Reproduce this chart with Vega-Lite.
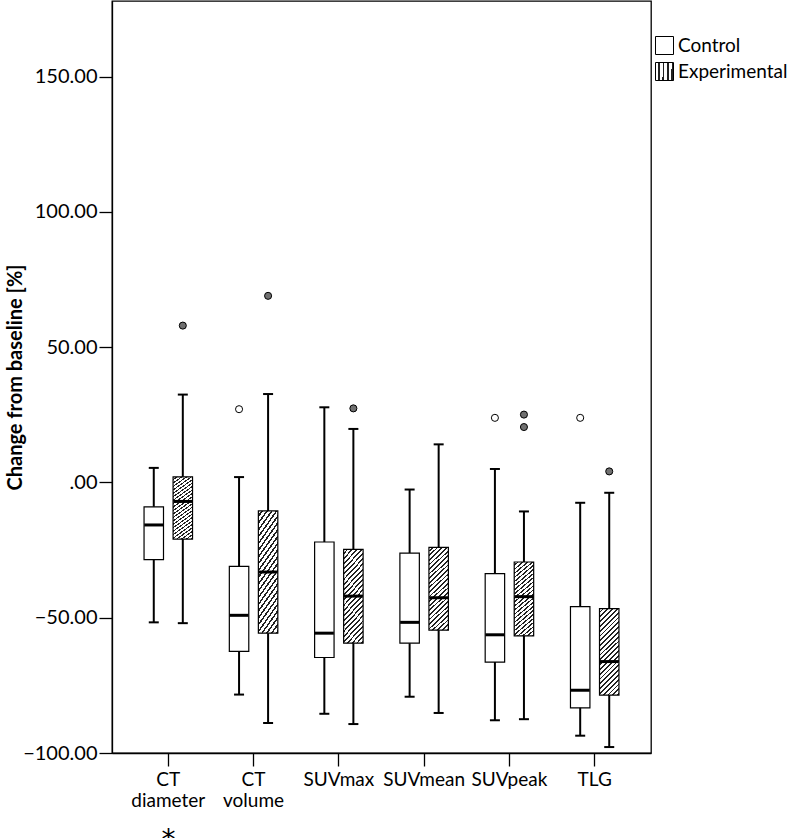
{
  "$schema": "https://vega.github.io/schema/vega-lite/v6.json",
  "autosize": {"type": "none"},
  "padding": {"left": 112, "top": 1, "right": 137, "bottom": 85},
  "width": 539,
  "height": 752,
  "background": "white",
  "config": {
    "font": "Lato",
    "view": {"stroke": "black", "strokeWidth": 1.3},
    "axis": {"grid": false, "domainColor": "black", "tickColor": "black", "labelColor": "black", "titleColor": "black", "labelFont": "Lato", "titleFont": "Lato", "domainWidth": 1.3, "tickWidth": 1.3}
  },
  "datasets": {
    "boxes": [
      {"measure": "CT diameter", "group": "Control", "lo": -51.7, "q1": -28.5, "med": -15.7, "q3": -9.0, "hi": 5.4},
      {"measure": "CT diameter", "group": "Experimental", "lo": -52.0, "q1": -20.9, "med": -7.0, "q3": 2.1, "hi": 32.5},
      {"measure": "CT volume", "group": "Control", "lo": -78.4, "q1": -62.4, "med": -49.1, "q3": -31.0, "hi": 2.0},
      {"measure": "CT volume", "group": "Experimental", "lo": -88.9, "q1": -55.7, "med": -33.1, "q3": -10.5, "hi": 32.7},
      {"measure": "SUVmax", "group": "Control", "lo": -85.5, "q1": -64.7, "med": -55.7, "q3": -22.0, "hi": 27.8},
      {"measure": "SUVmax", "group": "Experimental", "lo": -89.3, "q1": -59.4, "med": -42.0, "q3": -24.7, "hi": 19.8},
      {"measure": "SUVmean", "group": "Control", "lo": -79.2, "q1": -59.4, "med": -51.7, "q3": -26.1, "hi": -2.6},
      {"measure": "SUVmean", "group": "Experimental", "lo": -85.2, "q1": -54.6, "med": -42.6, "q3": -24.0, "hi": 14.1},
      {"measure": "SUVpeak", "group": "Control", "lo": -87.9, "q1": -66.4, "med": -56.3, "q3": -33.7, "hi": 5.0},
      {"measure": "SUVpeak", "group": "Experimental", "lo": -87.5, "q1": -56.7, "med": -42.2, "q3": -29.4, "hi": -10.7},
      {"measure": "TLG", "group": "Control", "lo": -93.6, "q1": -83.3, "med": -76.8, "q3": -45.9, "hi": -7.5},
      {"measure": "TLG", "group": "Experimental", "lo": -97.8, "q1": -78.6, "med": -66.2, "q3": -46.6, "hi": -3.8}
    ],
    "outliers": [
      {"measure": "CT diameter", "group": "Experimental", "value": 58.0},
      {"measure": "CT volume", "group": "Control", "value": 27.1},
      {"measure": "CT volume", "group": "Experimental", "value": 69.0},
      {"measure": "SUVmax", "group": "Experimental", "value": 27.4},
      {"measure": "SUVpeak", "group": "Control", "value": 23.9},
      {"measure": "SUVpeak", "group": "Experimental", "value": 25.1},
      {"measure": "SUVpeak", "group": "Experimental", "value": 20.5},
      {"measure": "TLG", "group": "Control", "value": 23.9},
      {"measure": "TLG", "group": "Experimental", "value": 4.1}
    ]
  },
  "encoding": {
    "x": {
      "field": "measure", "type": "nominal",
      "sort": ["CT diameter", "CT volume", "SUVmax", "SUVmean", "SUVpeak", "TLG"],
      "scale": {"paddingInner": 0.2, "paddingOuter": 0.26},
      "axis": {
        "labelAngle": 0, "labelFontSize": 19, "labelExpr": "split(datum.label, ' ')",
        "labelLineHeight": 21, "labelBaseline": "top", "labelPadding": 4,
        "tickSize": 13,
        "title": "*", "titleFont": "DejaVu Sans", "titleFontSize": 28, "titleFontWeight": "normal",
        "titleX": 56, "titleY": 95, "titleAlign": "center", "titleBaseline": "alphabetic"
      }
    },
    "xOffset": {
      "field": "group", "type": "nominal",
      "scale": {"domain": ["Control", "Experimental"], "paddingInner": 0.33, "paddingOuter": 0.34}
    }
  },
  "layer": [
    {
      "data": {"name": "boxes"},
      "mark": {"type": "rule", "color": "black", "strokeWidth": 2, "opacity": 1},
      "encoding": {
        "y": {
          "field": "lo", "type": "quantitative",
          "scale": {"domain": [-100, 178], "nice": false, "zero": false},
          "axis": {
            "values": [-100, -50, 0, 50, 100, 150],
            "labelExpr": "datum.value === 0 ? '.00' : format(datum.value, '.2f')",
            "labelFontSize": 20, "labelPadding": 2, "tickSize": 13,
            "title": "Change from baseline [%]", "titleFontSize": 20, "titleFontWeight": "bold",
            "titleX": -91, "titleY": 376, "titleAlign": "center", "titleBaseline": "alphabetic", "titleAngle": -90
          }
        },
        "y2": {"field": "hi"}
      }
    },
    {
      "data": {"name": "boxes"},
      "mark": {"type": "tick", "color": "black", "size": 10, "thickness": 2, "opacity": 1},
      "encoding": {"y": {"field": "lo", "type": "quantitative"}}
    },
    {
      "data": {"name": "boxes"},
      "mark": {"type": "tick", "color": "black", "size": 10, "thickness": 2, "opacity": 1},
      "encoding": {"y": {"field": "hi", "type": "quantitative"}}
    },
    {
      "data": {"name": "boxes"},
      "mark": {"type": "bar", "stroke": "black", "strokeWidth": 1.2, "opacity": 1},
      "encoding": {
        "y": {"field": "q1", "type": "quantitative"},
        "y2": {"field": "q3"},
        "fill": {
          "field": "group", "type": "nominal",
          "scale": {"domain": ["Control", "Experimental"], "range": ["white", {"expr": "{gradient:'linear',x1:0,y1:0,x2:0.26,y2:1.16,stops:[{offset:0,color:'white'},{offset:0.0282,color:'white'},{offset:0.0282,color:'#222'},{offset:0.0455,color:'#222'},{offset:0.0455,color:'white'},{offset:0.0736,color:'white'},{offset:0.0736,color:'#222'},{offset:0.0909,color:'#222'},{offset:0.0909,color:'white'},{offset:0.1191,color:'white'},{offset:0.1191,color:'#222'},{offset:0.1364,color:'#222'},{offset:0.1364,color:'white'},{offset:0.1645,color:'white'},{offset:0.1645,color:'#222'},{offset:0.1818,color:'#222'},{offset:0.1818,color:'white'},{offset:0.21,color:'white'},{offset:0.21,color:'#222'},{offset:0.2273,color:'#222'},{offset:0.2273,color:'white'},{offset:0.2555,color:'white'},{offset:0.2555,color:'#222'},{offset:0.2727,color:'#222'},{offset:0.2727,color:'white'},{offset:0.3009,color:'white'},{offset:0.3009,color:'#222'},{offset:0.3182,color:'#222'},{offset:0.3182,color:'white'},{offset:0.3464,color:'white'},{offset:0.3464,color:'#222'},{offset:0.3636,color:'#222'},{offset:0.3636,color:'white'},{offset:0.3918,color:'white'},{offset:0.3918,color:'#222'},{offset:0.4091,color:'#222'},{offset:0.4091,color:'white'},{offset:0.4373,color:'white'},{offset:0.4373,color:'#222'},{offset:0.4545,color:'#222'},{offset:0.4545,color:'white'},{offset:0.4827,color:'white'},{offset:0.4827,color:'#222'},{offset:0.5,color:'#222'},{offset:0.5,color:'white'},{offset:0.5282,color:'white'},{offset:0.5282,color:'#222'},{offset:0.5455,color:'#222'},{offset:0.5455,color:'white'},{offset:0.5736,color:'white'},{offset:0.5736,color:'#222'},{offset:0.5909,color:'#222'},{offset:0.5909,color:'white'},{offset:0.6191,color:'white'},{offset:0.6191,color:'#222'},{offset:0.6364,color:'#222'},{offset:0.6364,color:'white'},{offset:0.6645,color:'white'},{offset:0.6645,color:'#222'},{offset:0.6818,color:'#222'},{offset:0.6818,color:'white'},{offset:0.71,color:'white'},{offset:0.71,color:'#222'},{offset:0.7273,color:'#222'},{offset:0.7273,color:'white'},{offset:0.7555,color:'white'},{offset:0.7555,color:'#222'},{offset:0.7727,color:'#222'},{offset:0.7727,color:'white'},{offset:0.8009,color:'white'},{offset:0.8009,color:'#222'},{offset:0.8182,color:'#222'},{offset:0.8182,color:'white'},{offset:0.8464,color:'white'},{offset:0.8464,color:'#222'},{offset:0.8636,color:'#222'},{offset:0.8636,color:'white'},{offset:0.8918,color:'white'},{offset:0.8918,color:'#222'},{offset:0.9091,color:'#222'},{offset:0.9091,color:'white'},{offset:0.9373,color:'white'},{offset:0.9373,color:'#222'},{offset:0.9545,color:'#222'},{offset:0.9545,color:'white'},{offset:0.9827,color:'white'},{offset:0.9827,color:'#222'},{offset:1,color:'#222'}]}"}]},
          "legend": {
            "title": null, "orient": "none", "legendX": 543, "legendY": 35, "padding": 0,
            "symbolType": "square", "symbolSize": 324, "symbolStrokeWidth": 1, "symbolStrokeColor": "black",
            "labelFontSize": 19, "labelFont": "Lato", "labelColor": "black", "labelOffset": 4, "rowPadding": 3
          }
        }
      }
    },
    {
      "data": {"name": "boxes"},
      "mark": {"type": "tick", "color": "black", "size": 19, "thickness": 3, "opacity": 1},
      "encoding": {"y": {"field": "med", "type": "quantitative"}}
    },
    {
      "data": {"name": "outliers"},
      "mark": {"type": "point", "shape": "circle", "size": 50, "filled": true, "stroke": "black", "strokeWidth": 1, "opacity": 1},
      "encoding": {
        "y": {"field": "value", "type": "quantitative"},
        "fill": {"condition": {"test": "datum.group === 'Experimental'", "value": "#707070"}, "value": "white"}
      }
    }
  ]
}
